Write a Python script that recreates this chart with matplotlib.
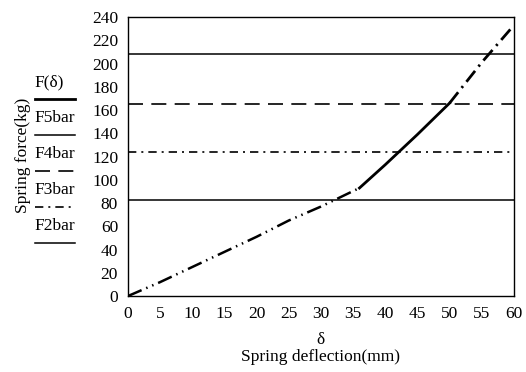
import matplotlib.pyplot as plt
from matplotlib.lines import Line2D

plt.rcParams['font.family'] = ['Liberation Serif', 'DejaVu Serif']

# spring force curve
defl_low = [0, 5, 10, 15, 20, 25, 30, 36]
force_low = [0, 12, 25, 38, 51, 65, 77, 93]
defl_mid = [36, 40, 45, 50]
force_mid = [93, 113, 139, 166]
defl_high = [50, 55, 60]
force_high = [166, 201, 233]

# bar levels (kg)
bar_names = ["F5bar", "F4bar", "F3bar", "F2bar"]
bar_levels = [208, 165, 124, 83]

x_ticks = list(range(0, 61, 5))
y_ticks = list(range(0, 241, 20))

fs = 12.5
fig = plt.figure(figsize=(5.26, 3.72), dpi=100)
ax = fig.add_axes([0.243, 0.204, 0.734, 0.750])

bar_styles = [
    dict(linestyle="-", lw=1.1),
    dict(linestyle=(0, (9, 5)), lw=1.2),
    dict(linestyle=(0, (5, 3, 1.2, 3)), lw=1.2),
    dict(linestyle="-", lw=1.1),
]
for level, st in zip(bar_levels, bar_styles):
    ax.axhline(level, color="black", **st)

ax.plot(defl_low, force_low, color="black", lw=1.8,
        linestyle=(0, (6, 2, 0.6, 2, 0.6, 2)))
ax.plot(defl_mid, force_mid, color="black", lw=2.0, linestyle="-")
ax.plot(defl_high, force_high, color="black", lw=2.0,
        linestyle=(0, (5, 2, 0.8, 2)))

ax.set_xlim(0, 60)
ax.set_ylim(0, 240)
ax.set_xticks(x_ticks)
ax.set_yticks(y_ticks)
ax.tick_params(length=0, labelsize=fs)
ax.tick_params(axis="x", pad=7)
ax.tick_params(axis="y", pad=7)
for s in ax.spines.values():
    s.set_linewidth(1.0)

fig.text(0.61, 1 - 340 / 372, "δ", fontsize=fs, ha="center", va="center")
fig.text(0.61, 1 - 357 / 372, "Spring deflection(mm)", fontsize=fs,
         ha="center", va="center")
fig.text(0.043, 0.583, "Spring force(kg)", rotation=90, fontsize=fs,
         ha="center", va="center")

# legend drawn by hand: label above its line sample
leg_labels = ["F(δ)"] + bar_names
leg_styles = [dict(linestyle="-", lw=2.0)] + bar_styles
y0 = 1 - 82 / 372
step = 36 / 372
for i, (lab, st) in enumerate(zip(leg_labels, leg_styles)):
    yt = y0 - i * step
    fig.text(0.066, yt, lab, fontsize=fs, ha="left", va="center")
    yl = yt - 17 / 372
    fig.add_artist(Line2D([35 / 526, 75 / 526], [yl, yl], color="black",
                          transform=fig.transFigure, **st))

fig.savefig("out.png", dpi=100)
